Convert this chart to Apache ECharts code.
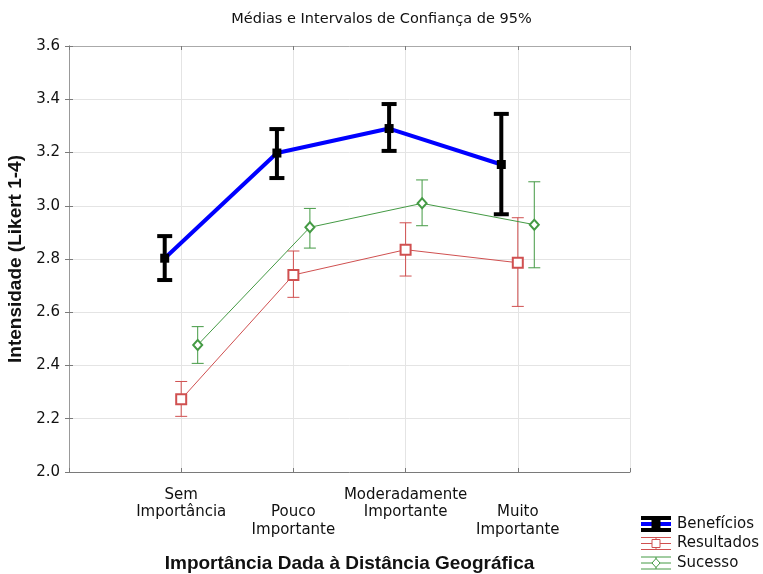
<!DOCTYPE html>
<html>
<head>
<meta charset="utf-8">
<script src="https://cdn.jsdelivr.net/npm/echarts@6/dist/echarts.min.js"></script>
<style>
  html, body { margin: 0; padding: 0; background: #fff; }
  #chart { width: 763px; height: 574px; }
</style>
</head>
<body>
<div id="chart"></div>
<script>
const categories = ['Sem\nImportância', 'Pouco\nImportante', 'Moderadamente\nImportante', 'Muito\nImportante']
const yTicks = [2.0, 2.2, 2.4, 2.6, 2.8, 3.0, 3.2, 3.4, 3.6]

const beneficiosMean = [2.803, 3.198, 3.290, 3.155]
const beneficiosLow = [2.721, 3.104, 3.206, 2.968]
const beneficiosHigh = [2.886, 3.288, 3.382, 3.345]

const resultadosMean = [2.273, 2.740, 2.835, 2.786]
const resultadosLow = [2.209, 2.656, 2.736, 2.622]
const resultadosHigh = [2.340, 2.830, 2.936, 2.955]

const sucessoMean = [2.477, 2.919, 3.009, 2.929]
const sucessoLow = [2.408, 2.841, 2.925, 2.767]
const sucessoHigh = [2.546, 2.990, 3.097, 3.090]

const BLUE = '#0000ff'
const RED = '#d05050'
const GREEN = '#449a44'
const FONT = 'DejaVu Sans'

// little horizontal shift so the three groups don't sit on top of each other
const shift = 0.147

const points = (vals, off) => vals.map((v, i) => [i + 1 + off, v])
const bars = (lo, hi, off) => lo.map((v, i) => [i + 1 + off, v, hi[i]])

const errorBar = (color, width, cap) => (params, api) => {
  const x = api.value(0)
  const a = api.coord([x, api.value(1)])
  const b = api.coord([x, api.value(2)])
  const style = { stroke: color, lineWidth: width }
  return {
    type: 'group',
    children: [
      { type: 'line', shape: { x1: a[0], y1: a[1], x2: b[0], y2: b[1] }, style },
      { type: 'line', shape: { x1: a[0] - cap / 2, y1: a[1], x2: a[0] + cap / 2, y2: a[1] }, style },
      { type: 'line', shape: { x1: b[0] - cap / 2, y1: b[1], x2: b[0] + cap / 2, y2: b[1] }, style }
    ]
  }
}

// legend icons, drawn by hand next to the legend text
const legendIcon = (cy, barColor, lineColor, barW, lineW, marker) => {
  const x0 = 641, x1 = 671, cx = 656
  const kids = [
    { type: 'line', shape: { x1: x0, y1: cy - 6, x2: x1, y2: cy - 6 }, style: { stroke: barColor, lineWidth: barW } },
    { type: 'line', shape: { x1: x0, y1: cy + 6, x2: x1, y2: cy + 6 }, style: { stroke: barColor, lineWidth: barW } },
    { type: 'line', shape: { x1: cx, y1: cy - 6, x2: cx, y2: cy + 6 }, style: { stroke: barColor, lineWidth: barW } },
    { type: 'line', shape: { x1: x0, y1: cy, x2: x1, y2: cy }, style: { stroke: lineColor, lineWidth: lineW } }
  ]
  if (marker === 'square') {
    kids.push({ type: 'rect', shape: { x: cx - 4.5, y: cy - 4.5, width: 9, height: 9 }, style: { fill: '#000' } })
  } else if (marker === 'emptySquare') {
    kids.push({ type: 'rect', shape: { x: cx - 4, y: cy - 4, width: 8, height: 8 }, style: { fill: '#fff', stroke: barColor, lineWidth: 1 } })
  } else {
    kids.push({ type: 'polygon', shape: { points: [[cx, cy - 4.5], [cx + 4, cy], [cx, cy + 4.5], [cx - 4, cy]] }, style: { fill: '#fff', stroke: barColor, lineWidth: 1 } })
  }
  return { type: 'group', silent: true, children: kids }
}

const chart = echarts.init(document.getElementById('chart'))

const axisGray = '#7a7a7a'

chart.setOption({
  animation: false,
  backgroundColor: '#fff',
  title: {
    text: 'Médias e Intervalos de Confiança de 95%',
    left: 'center',
    top: 7,
    textStyle: { fontFamily: FONT, fontSize: 14.5, fontWeight: 'normal', color: '#111' }
  },
  grid: { left: 69, right: 133, top: 46, bottom: 102, outerBoundsMode: 'none' },
  legend: {
    orient: 'vertical',
    left: 641,
    top: 516.5,
    padding: 0,
    itemWidth: 30,
    itemHeight: 15,
    itemGap: 4.5,
    icon: 'rect',
    itemStyle: { opacity: 0 },
    selectedMode: false,
    textStyle: { fontFamily: FONT, fontSize: 15, color: '#111', padding: [0, 0, 0, 1] },
    data: ['Benefícios', 'Resultados', 'Sucesso']
  },
  graphic: [
    legendIcon(524, '#000', BLUE, 4, 4, 'square'),
    legendIcon(543.5, RED, RED, 1, 1, 'emptySquare'),
    legendIcon(563, GREEN, GREEN, 1, 1, 'diamond')
  ],
  xAxis: [
    {
      type: 'value',
      min: 0,
      max: 5,
      interval: 1,
      name: 'Importância Dada à Distância Geográfica',
      nameLocation: 'middle',
      nameGap: 82,
      nameTextStyle: { fontFamily: 'Liberation Sans', fontSize: 19, fontWeight: 'bold', color: '#111' },
      axisLine: { lineStyle: { color: axisGray } },
      axisTick: { inside: true, length: 4, lineStyle: { color: axisGray } },
      splitLine: { lineStyle: { color: '#e4e4e4' } },
      axisLabel: {
        margin: 14,
        fontFamily: FONT,
        fontSize: 15,
        lineHeight: 17.5,
        color: '#111',
        formatter: v => {
          const c = categories[v - 1]
          if (!c) return ''
          return v % 2 === 0 ? '\n' + c : c
        }
      }
    },
    {
      type: 'value',
      position: 'top',
      min: 0,
      max: 5,
      interval: 1,
      axisLine: { show: true, lineStyle: { color: '#aaa' } },
      axisTick: { show: true, inside: true, length: 4, lineStyle: { color: axisGray } },
      axisLabel: { show: false },
      splitLine: { show: false }
    }
  ],
  yAxis: [
    {
      type: 'value',
      min: yTicks[0],
      max: yTicks[yTicks.length - 1],
      interval: 0.2,
      name: 'Intensidade (Likert 1-4)',
      nameLocation: 'middle',
      nameGap: 39,
      nameTextStyle: { fontFamily: 'Liberation Sans', fontSize: 19, fontWeight: 'bold', color: '#111' },
      axisLine: { show: true, lineStyle: { color: axisGray } },
      axisTick: { show: true, inside: true, length: 4, lineStyle: { color: axisGray } },
      splitLine: { lineStyle: { color: '#e4e4e4' } },
      axisLabel: { margin: 9, fontFamily: FONT, fontSize: 15, color: '#111', formatter: v => v.toFixed(1) }
    },
    {
      type: 'value',
      position: 'right',
      min: yTicks[0],
      max: yTicks[yTicks.length - 1],
      interval: 0.2,
      axisLine: { show: true, lineStyle: { color: '#999' } },
      axisTick: { show: true, inside: true, length: 4, lineStyle: { color: axisGray } },
      axisLabel: { show: false },
      splitLine: { show: false }
    }
  ],
  series: [
    {
      name: 'Resultados',
      type: 'line',
      data: points(resultadosMean, 0),
      symbol: 'emptyRect',
      symbolSize: 10,
      itemStyle: { color: RED, borderWidth: 1 },
      lineStyle: { color: RED, width: 1 },
      z: 4
    },
    {
      type: 'custom',
      data: bars(resultadosLow, resultadosHigh, 0),
      renderItem: errorBar(RED, 1, 12),
      encode: { x: 0, y: [1, 2] },
      z: 3
    },
    {
      name: 'Sucesso',
      type: 'line',
      data: points(sucessoMean, shift),
      symbol: 'emptyDiamond',
      symbolSize: [9, 10],
      itemStyle: { color: GREEN, borderWidth: 1 },
      lineStyle: { color: GREEN, width: 1 },
      z: 4
    },
    {
      type: 'custom',
      data: bars(sucessoLow, sucessoHigh, shift),
      renderItem: errorBar(GREEN, 1, 12),
      encode: { x: 0, y: [1, 2] },
      z: 3
    },
    {
      type: 'custom',
      data: bars(beneficiosLow, beneficiosHigh, -shift),
      renderItem: errorBar('#000', 4, 15),
      encode: { x: 0, y: [1, 2] },
      z: 5
    },
    {
      name: 'Benefícios',
      type: 'line',
      data: points(beneficiosMean, -shift),
      symbol: 'rect',
      symbolSize: 9,
      itemStyle: { color: '#000' },
      lineStyle: { color: BLUE, width: 4 },
      z: 6
    }
  ]
})
</script>
</body>
</html>
